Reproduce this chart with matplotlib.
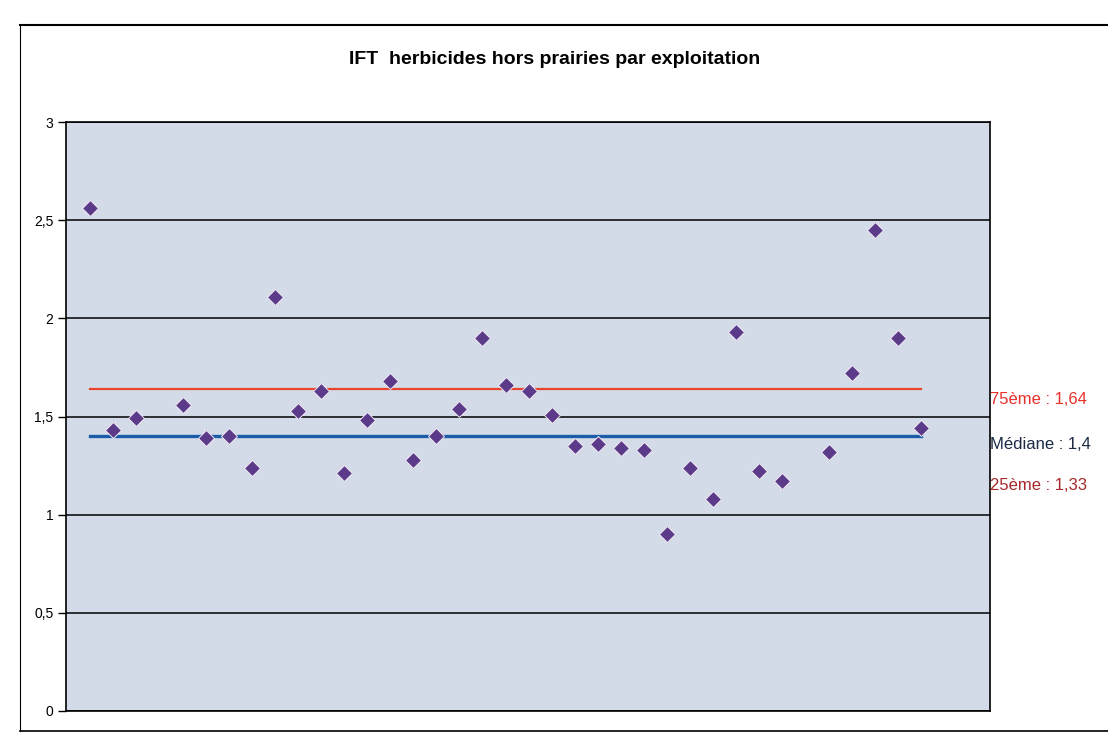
import numpy as np
import matplotlib
matplotlib.use("Agg")
import matplotlib.pyplot as plt
from matplotlib.lines import Line2D
from matplotlib.ticker import FuncFormatter
import matplotlib.transforms as mtransforms

# ---- data ----
exploitations = list(range(1, 38))
ift_values = [2.56, 1.43, 1.49, np.nan, 1.56, 1.39, 1.40, 1.24, 2.11, 1.53,
              1.63, 1.21, 1.48, 1.68, 1.28, 1.40, 1.54, 1.90, 1.66, 1.63,
              1.51, 1.35, 1.36, 1.34, 1.33, 0.90, 1.24, 1.08, 1.93, 1.22,
              1.17, np.nan, 1.32, 1.72, 2.45, 1.90, 1.44]
p75 = 1.64
median = 1.4
p25 = 1.33
y_ticks = [0, 0.5, 1, 1.5, 2, 2.5, 3]
title = "IFT  herbicides hors prairies par exploitation"
labels = ["75ème : 1,64", "Médiane : 1,4", "25ème : 1,33"]

plt.rcParams['font.family'] = ['Liberation Sans', 'DejaVu Sans']

fig = plt.figure(figsize=(11.08, 7.36), dpi=100)
fig.patch.set_facecolor('white')
ax = fig.add_axes([66/1108, 1-711/736, (990-66)/1108, (711-122)/736])
ax.set_facecolor('#d3dae8')

ax.set_xlim(-0.05, 40)
ax.set_ylim(0, 3)
ax.set_yticks(y_ticks)
ax.yaxis.set_major_formatter(FuncFormatter(lambda v, p: ('%g' % v).replace('.', ',')))
ax.set_xticks([])
ax.tick_params(axis='y', direction='out', length=6, width=1, labelsize=10, pad=3)
for s in ax.spines.values():
    s.set_color('black')
    s.set_linewidth(1.2)
ax.yaxis.grid(True, color='black', linewidth=1.1)
ax.set_axisbelow(True)

x = np.array(exploitations)
ax.plot([x[0], x[-1]], [p75, p75], color='#e8452c', linewidth=1.6, zorder=3)
ax.plot([x[0], x[-1]], [median, median], color='#1a5ca8', linewidth=2.4, zorder=3)
ax.plot(x, ift_values, linestyle='none', marker='D', markersize=8.5,
        markerfacecolor='#5b3a8a', markeredgecolor='#f0e8f4', markeredgewidth=0.7,
        zorder=4)

trans = mtransforms.blended_transform_factory(ax.transAxes, ax.transData)
ax.text(1.0, 1.585, labels[0], transform=trans, color='#e8302a', fontsize=12,
        ha='left', va='center', clip_on=False)
ax.text(1.0, 1.355, labels[1], transform=trans, color='#1c2a44', fontsize=12,
        ha='left', va='center', clip_on=False)
ax.text(1.0, 1.15, labels[2], transform=trans, color='#a8282a', fontsize=12,
        ha='left', va='center', clip_on=False)

fig.text(555/1108, 1-60/736, title, ha='center', va='center', fontsize=14,
         fontweight='bold')

# outer chart border
x0, x1 = 20/1108, 1.01
y0, y1 = 1-731/736, 1-25/736
fig.add_artist(Line2D([x0, x1], [y1, y1], color='black', linewidth=1.5, transform=fig.transFigure))
fig.add_artist(Line2D([x0, x0], [y0, y1], color='black', linewidth=0.8, transform=fig.transFigure))
fig.add_artist(Line2D([x0, x1], [y0, y0], color='black', linewidth=1.2, transform=fig.transFigure))

fig.savefig('out.png', dpi=100)
